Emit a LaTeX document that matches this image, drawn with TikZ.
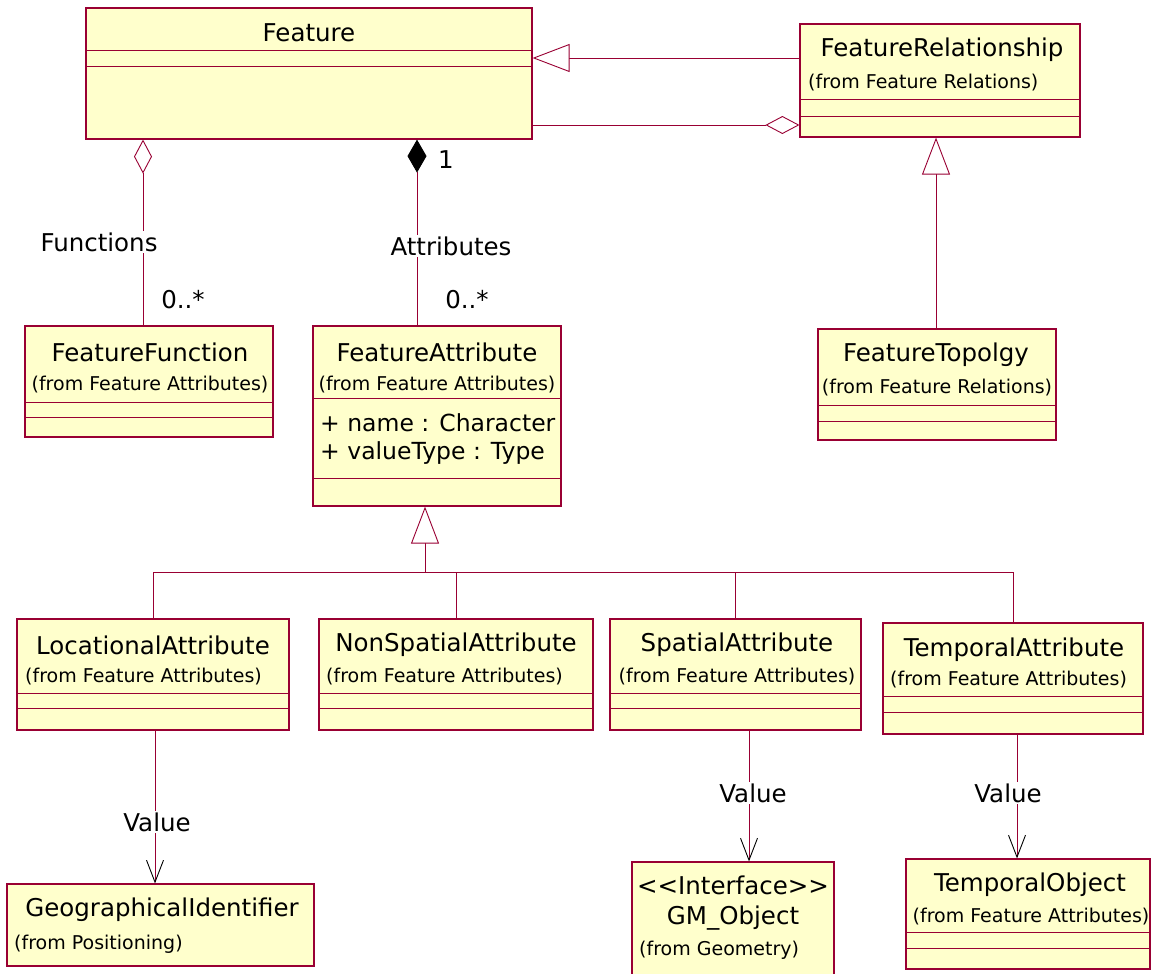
\documentclass[tikz,border=0pt]{standalone}
\usepackage{fontspec}
\setmainfont{DejaVu Sans}
\usetikzlibrary{arrows.meta}

\definecolor{rosered}{RGB}{153,0,51}
\definecolor{roseyellow}{RGB}{255,255,204}

\tikzset{
  cls/.style={draw=rosered, fill=roseyellow, line width=1.2pt, inner sep=0pt},
  sep/.style={draw=rosered, line width=0.8pt},
  cname/.style={font=\fontsize{24.5}{27}\selectfont, inner sep=0pt},
  attr/.style={font=\fontsize{23.5}{26}\selectfont, inner sep=0pt, anchor=west},
  pkg/.style={font=\fontsize{19}{21}\selectfont, inner sep=0pt},
  lbl/.style={font=\fontsize{24.5}{27}\selectfont, inner sep=2pt},
  link/.style={draw=rosered, line width=0.9pt},
  gen/.style={link, -{Triangle[length=37pt, width=28pt, fill=white]}},
  agg/.style={link, -{Diamond[length=34pt, width=18pt, fill=white]}},
  comp/.style={link, -{Diamond[length=33pt, width=19pt, color=black]}},
  nav/.style={link, -{Straight Barb[length=22pt, width=17pt, color=black]}},
}

\begin{document}
\begin{tikzpicture}[x=1pt, y=-1pt]
	\useasboundingbox (0,0) rectangle (1156,974);
	\clip (0,0) rectangle (1156,974);

	% class boxes
	\node[cls, minimum width=446pt, minimum height=131pt] (feature) at (309,73.5) {};
	\draw[sep] (86,50) -- (532,50);
	\draw[sep] (86,66) -- (532,66);
	\node[cname] (featureT) at (309,33) {Feature};

	\node[cls, minimum width=280pt, minimum height=113pt] (featRel) at (940,80.5) {};
	\draw[sep] (800,99) -- (1080,99);
	\draw[sep] (800,116) -- (1080,116);
	\node[cname] (featRelT) at (942,50) {FeatureRelationship};
	\node[pkg, anchor=west] (featRelP) at (808,83) {(from Feature Relations)};

	\node[cls, minimum width=248pt, minimum height=111pt] (featFunc) at (149,381.5) {};
	\draw[sep] (25,402) -- (273,402);
	\draw[sep] (25,417) -- (273,417);
	\node[cname] (featFuncT) at (150,352) {FeatureFunction};
	\node[pkg] (featFuncP) at (150,385) {(from Feature Attributes)};

	\node[cls, minimum width=248pt, minimum height=180pt] (featAttr) at (437,416) {};
	\draw[sep] (313,398) -- (561,398);
	\draw[sep] (313,478) -- (561,478);
	\node[cname] (featAttrT) at (437,352) {FeatureAttribute};
	\node[pkg] (featAttrP) at (437,385) {(from Feature Attributes)};
	\node[attr] (attrName) at (320,423) {+ name : Character};
	\node[attr] (attrType) at (320,453) {+ valueType : Type};

	\node[cls, minimum width=238pt, minimum height=111pt] (featTopo) at (937,384.5) {};
	\draw[sep] (818,405) -- (1056,405);
	\draw[sep] (818,421) -- (1056,421);
	\node[cname] (featTopoT) at (936,355) {FeatureTopolgy};
	\node[pkg] (featTopoP) at (937,388) {(from Feature Relations)};

	\node[cls, minimum width=272pt, minimum height=111pt] (locAttr) at (153,674.5) {};
	\draw[sep] (17,693) -- (289,693);
	\draw[sep] (17,708) -- (289,708);
	\node[cname] (locAttrT) at (153,645) {LocationalAttribute};
	\node[pkg, anchor=west] (locAttrP) at (25,677) {(from Feature Attributes)};

	\node[cls, minimum width=274pt, minimum height=111pt] (nonSpAttr) at (456,674.5) {};
	\draw[sep] (319,693) -- (593,693);
	\draw[sep] (319,708) -- (593,708);
	\node[cname] (nonSpAttrT) at (456,645) {NonSpatialAttribute};
	\node[pkg, anchor=west] (nonSpAttrP) at (326,677) {(from Feature Attributes)};

	\node[cls, minimum width=251pt, minimum height=111pt] (spAttr) at (735.5,674.5) {};
	\draw[sep] (610,693) -- (861,693);
	\draw[sep] (610,708) -- (861,708);
	\node[cname] (spAttrT) at (737,645) {SpatialAttribute};
	\node[pkg] (spAttrP) at (737,677) {(from Feature Attributes)};

	\node[cls, minimum width=260pt, minimum height=111pt] (tempAttr) at (1013,678.5) {};
	\draw[sep] (883,696) -- (1143,696);
	\draw[sep] (883,712) -- (1143,712);
	\node[cname] (tempAttrT) at (1014,650) {TemporalAttribute};
	\node[pkg, anchor=west] (tempAttrP) at (890,680) {(from Feature Attributes)};

	\node[cls, minimum width=307pt, minimum height=82pt] (geoId) at (160.5,925) {};
	\node[cname] (geoIdT) at (162,910) {GeographicalIdentifier};
	\node[pkg, anchor=west] (geoIdP) at (14,944) {(from Positioning)};

	\node[cls, minimum width=202pt, minimum height=138pt] (gmObj) at (733,931) {};
	\node[cname] (gmObjS) at (733,885) {\textless\kern0pt\textless Interface\textgreater\kern0pt\textgreater};
	\node[cname] (gmObjT) at (733,918) {GM\_Object};
	\node[pkg, anchor=west] (gmObjP) at (639,950) {(from Geometry)};

	\node[cls, minimum width=244pt, minimum height=110pt] (tempObj) at (1028,914) {};
	\draw[sep] (906,932) -- (1150,932);
	\draw[sep] (906,948) -- (1150,948);
	\node[cname] (tempObjT) at (1030,885) {TemporalObject};
	\node[pkg] (tempObjP) at (1031,917) {(from Feature Attributes)};

	% relations between the top classes
	\draw[gen] (featRel.west |- 0,58) -- (feature.east |- 0,58);
	\draw[agg] (feature.east |- 0,125) -- (featRel.west |- 0,125);
	\draw[gen] (featTopo.north -| 936,0) -- (featRel.south -| 936,0);

	\draw[agg] (featFunc.north -| 143,0) -- (feature.south -| 143,0);
	\node[lbl, fill=white] (funcL) at (99,242) {Functions};
	\node[lbl] (funcM) at (183,300) {0..*};

	\draw[comp] (featAttr.north -| 417,0) -- (feature.south -| 417,0);
	\node[lbl, fill=white] (attrL) at (451,246) {Attributes};
	\node[lbl] (attrM) at (467,300) {0..*};
	\node[lbl] (attrOne) at (446,160) {1};

	% subclasses of FeatureAttribute
	\coordinate (bus) at (425,572);
	\draw[gen] (bus) -- (featAttr.south -| bus);
	\draw[link] (locAttr.north) |- (bus);
	\draw[link] (nonSpAttr.north) |- (bus);
	\draw[link] (spAttr.north) |- (bus);
	\draw[link] (tempAttr.north) |- (bus);

	% value links
	\draw[nav] (locAttr.south -| 155,0) -- (geoId.north -| 155,0);
	\node[lbl, fill=white] (valL) at (157,822) {Value};
	\draw[nav] (spAttr.south -| 749,0) -- (gmObj.north -| 749,0);
	\node[lbl, fill=white] (valS) at (753,793) {Value};
	\draw[nav] (tempAttr.south -| 1017,0) -- (tempObj.north -| 1017,0);
	\node[lbl, fill=white] (valT) at (1008,793) {Value};
\end{tikzpicture}
\end{document}
